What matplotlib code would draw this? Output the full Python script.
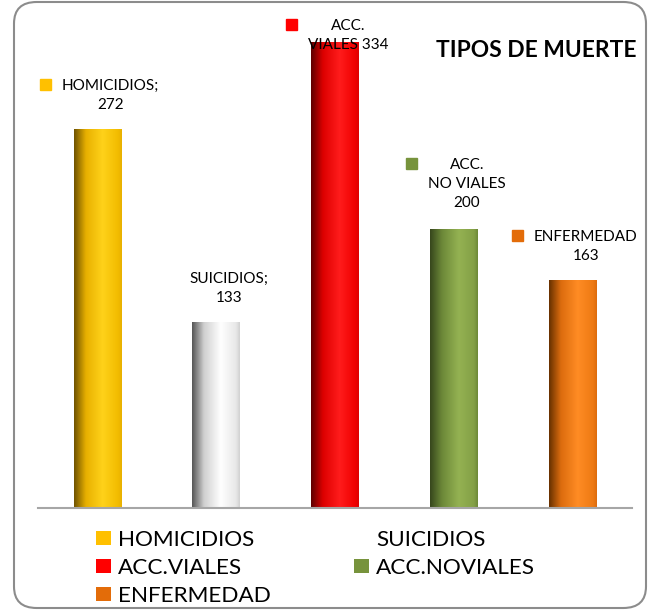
import matplotlib
matplotlib.use('Agg')
import matplotlib.pyplot as plt
import numpy as np
from matplotlib.colors import LinearSegmentedColormap
from matplotlib.patches import FancyBboxPatch, Patch

plt.rcParams['font.family'] = ['Lato', 'DejaVu Sans']

CATEGORIES = ['HOMICIDIOS', 'SUICIDIOS', 'ACC.VIALES', 'ACC.NOVIALES', 'ENFERMEDAD']
VALUES = [272, 133, 334, 200, 163]
LABEL_TEXTS = ['HOMICIDIOS;\n272', 'SUICIDIOS;\n133', 'ACC.\nVIALES 334',
               'ACC.\nNO VIALES\n200', 'ENFERMEDAD\n163']
TITLE = 'TIPOS DE MUERTE'

BASE = ['#FFC000', '#FFFFFF', '#FF0000', '#77933C', '#E36C09']
# dark / mid / highlight / right-edge shades for the cylinder look
SHADES = {
    'HOMICIDIOS':   ['#6E5200', '#E8B000', '#FFD21A', '#F2BC00'],
    'SUICIDIOS':    ['#555555', '#D0D0D0', '#FFFFFF', '#E8E8E8'],
    'ACC.VIALES':   ['#5C0000', '#DD0000', '#FF1C1C', '#F00000'],
    'ACC.NOVIALES': ['#36461C', '#6C8838', '#94B252', '#84A046'],
    'ENFERMEDAD':   ['#663000', '#DC6C0E', '#FF8C24', '#EE7A14'],
}
LABEL_DY = [33.5, 34, 7, 45.5, 34]   # px above bar top (block centre)

W, H, DPI = 649, 616, 100
fig = plt.figure(figsize=(W / DPI, H / DPI), dpi=DPI)
ax = fig.add_axes([38 / W, 108 / H, 594 / W, 478 / H])

x = np.arange(len(CATEGORIES))
bw = 0.4
grad = np.linspace(0, 1, 256).reshape(1, -1)
for i, (cat, val) in enumerate(zip(CATEGORIES, VALUES)):
    d, m, l, r = SHADES[cat]
    cmap = LinearSegmentedColormap.from_list(
        cat, [(0, d), (0.25, m), (0.6, l), (0.92, r), (1.0, m)])
    ax.imshow(grad, cmap=cmap, aspect='auto', interpolation='bicubic',
              extent=(x[i] - bw / 2, x[i] + bw / 2, 0, val), zorder=2)

ax.set_xlim(-0.5, len(CATEGORIES) - 0.5)
ax.set_ylim(0, 478 / 1.393)
for s in ['top', 'left', 'right']:
    ax.spines[s].set_visible(False)
ax.spines['bottom'].set_color('#A6A6A6')
ax.spines['bottom'].set_linewidth(1.5)
ax.set_xticks([])
ax.set_yticks([])
ax.patch.set_alpha(0)

# data labels
texts = []
for i, val in enumerate(VALUES):
    t = ax.annotate(LABEL_TEXTS[i], xy=(x[i], val), xytext=(13 * 0.72, LABEL_DY[i] * 0.72),
                    textcoords='offset points', ha='center', va='center',
                    multialignment='center', fontsize=11, linespacing=1.45,
                    color='#000000', zorder=5, annotation_clip=False)
    texts.append(t)

fig.canvas.draw()
rend = fig.canvas.get_renderer()
for i, t in enumerate(texts):
    bb = t.get_window_extent(rend)
    nl = LABEL_TEXTS[i].count('\n') + 1
    lh = bb.height / nl
    cx = bb.x0 - 11 - 5.5
    cy = bb.y1 - lh / 2 + 3
    fx, fy = cx / W, cy / H
    fig.patches.append(plt.Rectangle((fx - 5.5 / W, fy - 5.5 / H), 11 / W, 11 / H,
                                     transform=fig.transFigure, color=BASE[i],
                                     zorder=6))

fig.text(636 / W, 1 - 50.5 / H, TITLE, ha='right', va='center',
         fontsize=16.4, fontweight='bold')

# legend in row-major order
order = [0, 2, 4, 1, 3]
handles = [Patch(facecolor=BASE[k], edgecolor='none') for k in order]
labels = [CATEGORIES[k] for k in order]
fig.legend(handles, labels, loc='upper left', bbox_to_anchor=(96 / W, 1 - 530 / H),
           ncol=2, frameon=False, fontsize=16.2, handlelength=0.68,
           handleheight=0.62, handletextpad=0.3, columnspacing=3.7,
           labelspacing=0.35, borderpad=0, borderaxespad=0)

border = FancyBboxPatch((14 / W, 8 / H), 632 / W, 606 / H,
                        boxstyle='round,pad=0,rounding_size=0.035',
                        transform=fig.transFigure, facecolor='none',
                        edgecolor='#8C8C8C', linewidth=1.5)
fig.patches.append(border)

fig.savefig('out.png', dpi=DPI)
